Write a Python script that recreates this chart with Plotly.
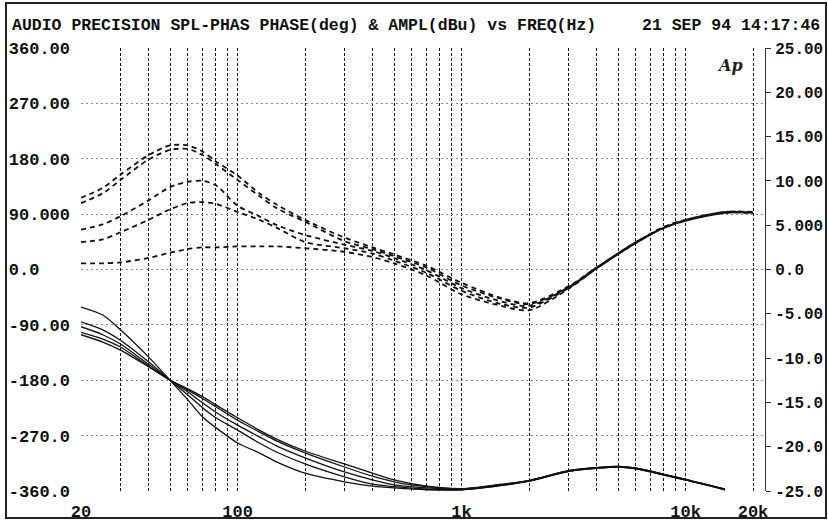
import math
import plotly.graph_objects as go

# ---------------- data ----------------
freq_amp = [20, 25, 30, 40, 50, 60, 70, 80, 100, 125, 150, 200, 300, 400, 500,
            700, 1000, 1500, 2000, 3000, 4000, 6000, 8000, 10000, 15000, 20000]
ampl_a1 = [8.1, 9.2, 10.7, 12.9, 14.0, 14.0, 13.3, 12.2, 10.6, 8.6, 7.3, 5.6, 3.6, 2.5, 1.7,
           0.4, -1.5, -3.2, -3.8, -1.9, 0.2, 3.1, 4.8, 5.6, 6.5, 6.4]
ampl_a2 = [7.5, 8.6, 10.1, 12.4, 13.5, 13.6, 12.9, 11.9, 10.1, 8.3, 6.9, 5.4, 3.2, 2.3, 1.5,
           0.2, -1.8, -3.3, -3.9, -2.0, 0.2, 3.0, 4.8, 5.6, 6.4, 6.4]
ampl_b = [4.5, 5.1, 6.0, 7.8, 9.3, 9.9, 10.0, 9.5, 7.2, 6.0, 5.0, 3.9, 2.8, 2.1, 1.3,
          -0.1, -2.1, -3.6, -4.1, -2.0, 0.2, 3.1, 4.7, 5.6, 6.5, 6.5]
ampl_c = [3.1, 3.4, 4.2, 5.6, 6.8, 7.5, 7.6, 7.4, 6.5, 5.6, 4.7, 3.1, 2.4, 1.8, 1.0,
          -0.4, -2.4, -3.9, -4.3, -2.1, 0.1, 3.0, 4.7, 5.5, 6.4, 6.4]
ampl_d = [0.7, 0.7, 0.8, 1.3, 1.9, 2.3, 2.5, 2.5, 2.6, 2.6, 2.6, 2.4, 2.0, 1.4, 0.7,
          -0.7, -2.8, -4.1, -4.6, -2.2, 0.1, 3.0, 4.7, 5.5, 6.4, 6.4]

freq_phase = [20, 25, 30, 40, 50, 60, 70, 80, 100, 125, 150, 200, 300, 400, 500,
              700, 1000, 1500, 2000, 3000, 4000, 5000, 6000, 8000, 10000, 15000]
phase_s1 = [-61, -74, -98, -142, -180, -212, -240, -257, -282, -298, -313, -331, -345, -352, -355,
            -358, -358, -351, -344, -328, -323, -321, -324, -334, -342, -358]
phase_s2 = [-85, -98, -115, -150, -180, -204, -225, -241, -261, -282, -297, -316, -337, -349, -353,
            -357, -358, -351, -344, -328, -323, -321, -324, -334, -342, -358]
phase_s3 = [-93, -106, -121, -154, -180, -199, -217, -232, -253, -272, -287, -306, -329, -342, -350,
            -355, -357, -350, -343, -328, -322, -321, -323, -333, -342, -357]
phase_s4 = [-102, -113, -126, -157, -180, -196, -210, -223, -245, -264, -279, -298, -321, -336, -345,
            -353, -357, -350, -343, -327, -322, -320, -323, -333, -341, -357]
phase_s5 = [-106, -118, -131, -158, -180, -194, -207, -220, -241, -261, -276, -295, -316, -331, -342,
            -352, -356, -349, -343, -327, -322, -320, -323, -333, -341, -357]

x_grid = [20, 30, 40, 50, 60, 70, 80, 90, 100, 200, 300, 400, 500, 600, 700, 800, 900,
          1000, 2000, 3000, 4000, 5000, 6000, 7000, 8000, 9000, 10000, 20000]
x_labels = {20: "20", 100: "100", 1000: "1k", 10000: "10k", 20000: "20k"}
phase_ticks = [-360, -270, -180, -90, 0, 90, 180, 270, 360]
phase_labels = ["-360.0", "-270.0", "-180.0", "-90.00", "0.0\u00a0\u00a0\u00a0",
                "90.000", "180.00", "270.00", "360.00"]
ampl_ticks = [-25, -20, -15, -10, -5, 0, 5, 10, 15, 20, 25]
ampl_labels = ["-25.0", "-20.0", "-15.0", "-10.0", "-5.00", "0.0",
               "5.000", "10.00", "15.00", "20.00", "25.00"]

title_left = "AUDIO PRECISION SPL-PHAS PHASE(deg) & AMPL(dBu) vs FREQ(Hz)"
title_right = "21 SEP 94 14:17:46"

# ---------------- figure ----------------
W, H = 828, 523
L, R, T, B = 81, 63, 48, 32
pw, ph = W - L - R, H - T - B
px_per_dec = 224.0
x0 = math.log10(20)
x1 = x0 + pw / px_per_dec

FONT = "Liberation Mono"


def px(xp):
    return (xp - L) / pw


def py(yp):
    return (H - B - yp) / ph


fig = go.Figure()

for arr in [phase_s1, phase_s2, phase_s3, phase_s4, phase_s5]:
    fig.add_trace(go.Scatter(x=freq_phase, y=arr, mode="lines",
                             line=dict(color="#111", width=1.3, shape="spline", smoothing=0.8),
                             yaxis="y", showlegend=False, hoverinfo="skip"))

for arr in [ampl_a1, ampl_a2, ampl_b, ampl_c, ampl_d]:
    fig.add_trace(go.Scatter(x=freq_amp, y=arr, mode="lines",
                             line=dict(color="#111", width=1.8, dash="5px,4px",
                                       shape="spline", smoothing=0.8),
                             yaxis="y2", showlegend=False, hoverinfo="skip"))

tf = dict(family=FONT, size=17, weight="bold", color="#111")
tf_r = dict(family=FONT, size=16, weight="bold", color="#111")

fig.update_layout(
    width=W, height=H,
    margin=dict(l=L, r=R, t=T, b=B, pad=0, autoexpand=False),
    paper_bgcolor="white", plot_bgcolor="white",
    font=dict(family=FONT, size=17, color="#111", weight="bold"),
    xaxis=dict(type="log", range=[x0, x1], tickvals=x_grid,
               ticktext=[x_labels.get(v, "") for v in x_grid],
               showgrid=True, gridcolor="#111", gridwidth=1.4, griddash="3px,2px",
               zeroline=False, showline=False, ticks="", ticklabelstandoff=8,
               automargin=False, tickfont=tf),
    yaxis=dict(range=[-360, 360], tickvals=phase_ticks, ticktext=phase_labels,
               showgrid=True, gridcolor="#888", gridwidth=1, griddash="2px,3px",
               zeroline=False, showline=False, ticks="", ticklabelstandoff=10,
               automargin=False, tickfont=tf),
    yaxis2=dict(range=[-25, 25], tickvals=ampl_ticks, ticktext=ampl_labels,
                overlaying="y", side="right", anchor="x",
                showgrid=False, zeroline=False, showline=True, linecolor="#333",
                linewidth=1, ticks="outside", ticklen=5, tickcolor="#333",
                ticklabelstandoff=1, automargin=False, tickfont=tf_r),
)

fig.add_annotation(xref="paper", yref="paper", x=px(10), y=py(25), text=title_left,
                   showarrow=False, xanchor="left", yanchor="middle",
                   font=dict(family=FONT, size=16.5, weight="bold", color="#111"))
fig.add_annotation(xref="paper", yref="paper", x=px(822), y=py(25), text=title_right,
                   showarrow=False, xanchor="right", yanchor="middle",
                   font=dict(family=FONT, size=16.5, weight="bold", color="#111"))
fig.add_annotation(xref="paper", yref="paper", x=px(730), y=py(66), text="<i>Ap</i>",
                   showarrow=False, xanchor="center", yanchor="middle",
                   font=dict(family="DejaVu Serif", size=16, color="#222"))

fig.add_shape(type="rect", xref="paper", yref="paper",
              x0=px(6), x1=px(826), y0=py(518), y1=py(3),
              line=dict(color="#222", width=2), layer="above")

fig.write_html("out.html")
